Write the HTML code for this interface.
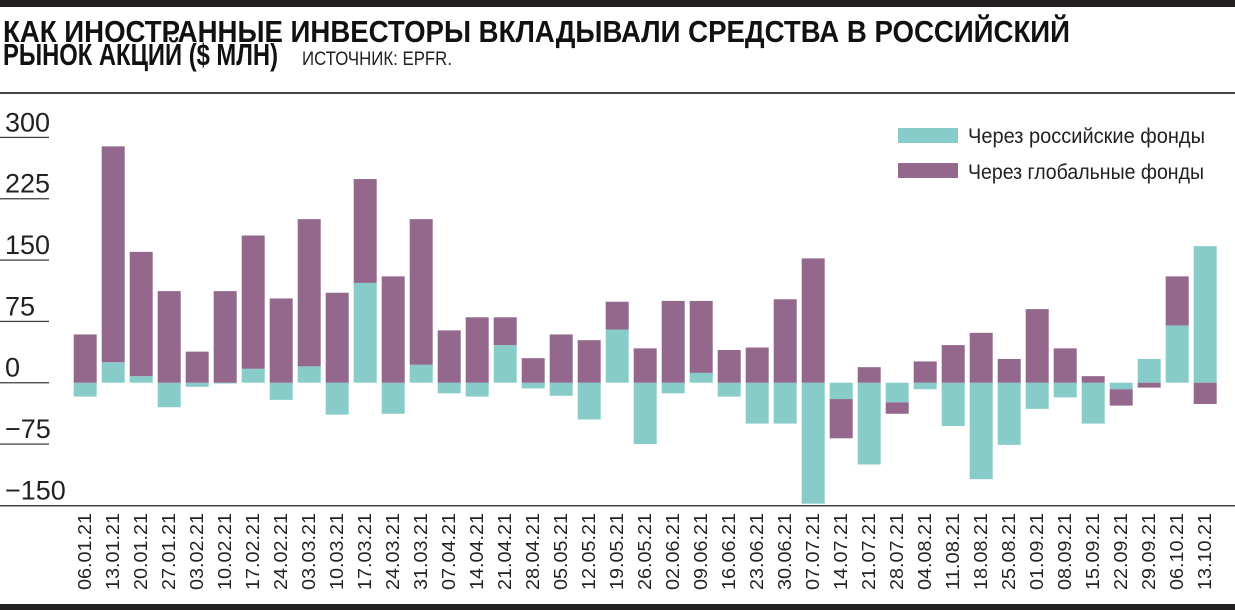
<!DOCTYPE html>
<html><head><meta charset="utf-8"><style>
body{margin:0;background:#fff;}
svg{display:block;font-family:"Liberation Sans Narrow","Liberation Sans",sans-serif;}
</style></head><body>
<svg id="chart" width="1235" height="610" viewBox="0 0 1235 610" xmlns="http://www.w3.org/2000/svg">
<rect x="0" y="0" width="1235" height="7" fill="#231f20"/>
<text x="3" y="42" font-size="31" font-weight="bold" fill="#111" textLength="1067" lengthAdjust="spacingAndGlyphs">КАК ИНОСТРАННЫЕ ИНВЕСТОРЫ ВКЛАДЫВАЛИ СРЕДСТВА В РОССИЙСКИЙ</text>
<text x="3" y="65" font-size="31" font-weight="bold" fill="#111" textLength="275" lengthAdjust="spacingAndGlyphs">РЫНОК АКЦИЙ ($ МЛН)</text>
<text x="302" y="65" font-size="19" fill="#222" textLength="150" lengthAdjust="spacingAndGlyphs">ИСТОЧНИК: EPFR.</text>
<rect x="0" y="92" width="1235" height="2" fill="#444"/>
<g id="grid"></g>
<g id="bars"></g>
<g id="xlabels"></g>
<rect x="0" y="505" width="1235" height="1.5" fill="#444"/>
<g>
<rect x="898" y="128" width="60" height="15" fill="#88ccc9"/>
<text x="968" y="143" font-size="21" fill="#222" textLength="237" lengthAdjust="spacingAndGlyphs">Через российские фонды</text>
<rect x="898" y="163" width="60" height="15" fill="#93688c"/>
<text x="968" y="179" font-size="21" fill="#222" textLength="236" lengthAdjust="spacingAndGlyphs">Через глобальные фонды</text>
</g>
<rect x="0" y="604" width="1235" height="6" fill="#231f20"/>
</svg>
<script>
const categories=["06.01.21","13.01.21","20.01.21","27.01.21","03.02.21","10.02.21","17.02.21","24.02.21","03.03.21","10.03.21","17.03.21","24.03.21","31.03.21","07.04.21","14.04.21","21.04.21","28.04.21","05.05.21","12.05.21","19.05.21","26.05.21","02.06.21","09.06.21","16.06.21","23.06.21","30.06.21","07.07.21","14.07.21","21.07.21","28.07.21","04.08.21","11.08.21","18.08.21","25.08.21","01.09.21","08.09.21","15.09.21","22.09.21","29.09.21","06.10.21","13.10.21"];
const russianFunds=[-17,25,8,-30,-5,-1,17,-21,20,-39,122,-38,22,-13,-17,46,-7,-16,-45,65,-75,-13,12,-17,-50,-50,-148,-20,-100,-24,-8,-53,-118,-76,-32,-18,-50,-8,29,70,167];
const globalFunds=[59,264,152,112,38,112,163,103,180,110,127,130,178,64,80,34,30,59,52,34,42,100,88,40,43,102,152,-48,19,-14,26,46,61,29,90,42,8,-20,-6,60,-26];
const yTicks=[300,225,150,75,0,-75,-150];
const yTickLabels=["300","225","150","75","0","\u221275","\u2212150"];
const NS="http://www.w3.org/2000/svg";
const zeroY=382.7, pxPerUnit=0.8178;
function y(v){return zeroY-v*pxPerUnit;}
function xc(i){return 85.2+i*28.0;}
const barW=23;
const grid=document.getElementById('grid');
yTicks.forEach((t,i)=>{
  if(t!==-150){
    const l=document.createElementNS(NS,'rect');
    
    
    l.setAttribute('x',0);l.setAttribute('y',y(t)-0.6);l.setAttribute('width',49);l.setAttribute('height',1.3);l.setAttribute('fill','#444');
    grid.appendChild(l);
  }
  const tx=document.createElementNS(NS,'text');
  
  
  tx.setAttribute('x',5);tx.setAttribute('y',y(t)-6);tx.setAttribute('font-size','27');tx.setAttribute('fill','#222');
  tx.textContent=yTickLabels[i];
  grid.appendChild(tx);
});
const bars=document.getElementById('bars');
function seg(i,from,to,color,name){
  const r=document.createElementNS(NS,'rect');
  
  
  const a=y(from),b=y(to);
  r.setAttribute('x',xc(i)-barW/2);r.setAttribute('y',Math.min(a,b));
  r.setAttribute('width',barW);r.setAttribute('height',Math.abs(b-a));
  r.setAttribute('fill',color);
  bars.appendChild(r);
}
categories.forEach((c,i)=>{
  let pos=0,neg=0;
  [[russianFunds[i],'#88ccc9','bar-russian-'+c],[globalFunds[i],'#93688c','bar-global-'+c]].forEach(([v,col,n])=>{
    if(v>=0){seg(i,pos,pos+v,col,n);pos+=v;}
    else{seg(i,neg,neg+v,col,n);neg+=v;}
  });
  const t=document.createElementNS(NS,'text');
  
  
  t.setAttribute('transform','translate('+(xc(i)+6)+',513) rotate(-90)');
  t.setAttribute('text-anchor','end');
  t.setAttribute('font-size','18');t.setAttribute('fill','#222');
  t.setAttribute('textLength','77');t.setAttribute('lengthAdjust','spacingAndGlyphs');
  t.textContent=c;
  document.getElementById('xlabels').appendChild(t);
});
</script>
</body></html>
